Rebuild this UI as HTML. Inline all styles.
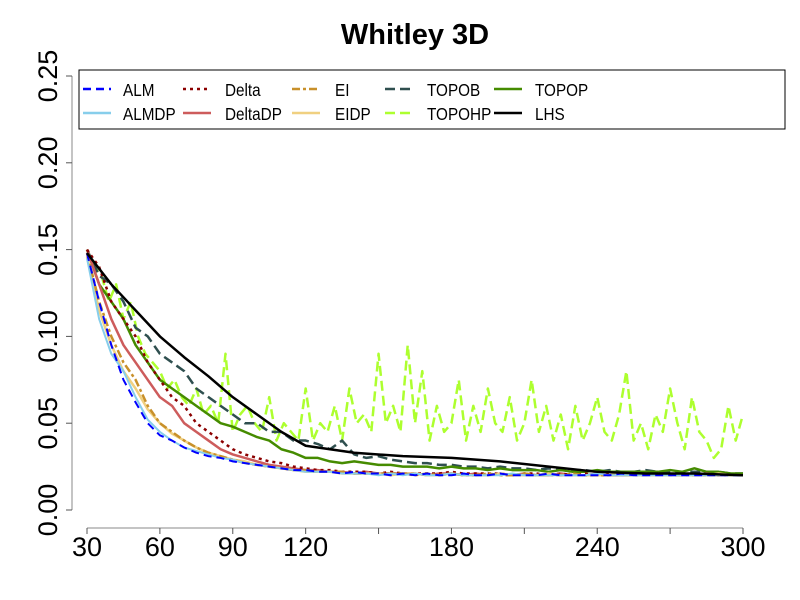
<!DOCTYPE html>
<html><head><meta charset="utf-8"><style>
body{margin:0;background:#fff}
svg{display:block;font-family:"Liberation Sans",sans-serif}
</style></head><body>
<svg id="c" width="800" height="600">
<text x="415" y="44" text-anchor="middle" font-size="29" font-weight="bold">Whitley 3D</text>
<g id="axes"></g><g id="plot"></g><g id="legend"></g>
</svg>
<script>
const xsStep5 = [];
for (let t = 30; t <= 300; t += 5) xsStep5.push(t);
const ALM = [.148,.12,.095,.075,.062,.05,.043,.04,.036,.033,.031,.03,.028,.027,.026,.025,.024,.023,.023,.022,.022,.021,.022,.021,.021,.02,.021,.02,.021,.02,.02,.021,.02,.02,.021,.02,.02,.02,.021,.02,.02,.02,.02,.02,.021,.02,.02,.02,.02,.02,.02,.02,.02,.02,.02];
const ALMDP = [.145,.11,.09,.08,.065,.052,.045,.04,.036,.034,.032,.03,.029,.027,.026,.025,.024,.023,.022,.022,.022,.021,.021,.021,.02,.021,.02,.021,.02,.02,.021,.02,.02,.02,.02,.021,.02,.02,.02,.02,.02,.02,.021,.02,.02,.02,.02,.02,.02,.02,.02,.02,.02,.02,.02];
const Delta = [.15,.14,.12,.11,.1,.085,.075,.065,.06,.05,.045,.04,.035,.032,.03,.028,.027,.025,.024,.023,.023,.022,.022,.022,.021,.022,.021,.021,.021,.021,.022,.021,.021,.021,.021,.02,.021,.021,.02,.021,.02,.021,.02,.021,.021,.02,.02,.021,.02,.02,.021,.02,.02,.02,.02];
const DeltaDP = [.15,.13,.11,.095,.085,.075,.065,.06,.05,.045,.04,.035,.032,.03,.028,.026,.025,.024,.023,.023,.022,.022,.021,.022,.021,.021,.021,.021,.02,.021,.021,.02,.021,.02,.021,.02,.021,.02,.02,.021,.02,.02,.021,.02,.02,.02,.021,.02,.02,.02,.02,.021,.02,.02,.02];
const EI = [.148,.12,.1,.085,.075,.06,.05,.045,.04,.036,.033,.031,.029,.027,.026,.025,.024,.023,.023,.022,.022,.022,.021,.021,.021,.021,.021,.02,.021,.02,.021,.02,.02,.021,.02,.02,.021,.02,.02,.02,.021,.02,.02,.02,.02,.02,.02,.021,.02,.02,.02,.02,.02,.02,.02];
const EIDP = [.146,.115,.095,.08,.07,.058,.05,.044,.04,.036,.033,.031,.029,.028,.026,.025,.024,.023,.022,.022,.022,.021,.021,.021,.021,.02,.021,.021,.02,.02,.021,.02,.02,.02,.021,.02,.02,.02,.021,.02,.02,.02,.02,.02,.021,.02,.02,.02,.02,.02,.02,.02,.021,.02,.02];
const TOPOB = [.15,.135,.13,.12,.105,.1,.09,.085,.08,.07,.065,.06,.055,.05,.05,.045,.045,.04,.04,.038,.035,.04,.032,.03,.031,.029,.028,.027,.027,.026,.026,.025,.025,.024,.025,.024,.024,.023,.024,.023,.023,.023,.022,.023,.022,.022,.023,.022,.022,.022,.022,.022,.022,.021,.021];
const TOPOP = [.15,.13,.12,.11,.095,.085,.075,.07,.065,.06,.055,.05,.048,.045,.042,.04,.035,.033,.03,.03,.028,.027,.028,.027,.026,.026,.025,.025,.025,.024,.025,.024,.024,.023,.024,.023,.023,.023,.022,.023,.022,.022,.023,.022,.022,.022,.022,.022,.023,.022,.024,.022,.022,.021,.021];
const xsStep3 = [];
for (let t = 30; t <= 300; t += 3) xsStep3.push(t);
const TOPOHP = [.15,.14,.135,.12,.13,.11,.12,.1,.09,.085,.08,.07,.075,.065,.06,.07,.055,.06,.05,.09,.045,.055,.06,.05,.045,.065,.04,.05,.045,.04,.07,.04,.05,.045,.06,.04,.07,.05,.055,.045,.09,.05,.06,.045,.095,.05,.08,.04,.06,.045,.05,.075,.04,.06,.045,.07,.05,.045,.065,.04,.05,.075,.045,.06,.04,.055,.035,.06,.04,.05,.065,.045,.04,.055,.08,.04,.05,.035,.055,.045,.07,.05,.035,.065,.045,.04,.03,.035,.06,.04,.055];
const xsLHS = [30,40,50,60,70,80,90,100,110,120,140,160,180,200,220,240,260,280,300];
const LHS = [.148,.13,.115,.1,.088,.077,.065,.055,.045,.037,.033,.031,.03,.028,.025,.022,.021,.021,.02];
const yTicks = [0,0.05,0.10,0.15,0.20,0.25];
const yLabels = ["0.00","0.05","0.10","0.15","0.20","0.25"];
const xTicks = [30,60,90,120,150,180,210,240,270,300];
const xLabels = ["30","60","90","120","","180","","240","","300"];

const X = t => 87 + (t - 30) * 656 / 270;
const Y = v => 510 - v * 1736;
const NS = "http://www.w3.org/2000/svg";
function mk(tag, attrs, parent){const e=document.createElementNS(NS,tag);for(const k in attrs)e.setAttribute(k,attrs[k]);parent.appendChild(e);return e;}
const axes=document.getElementById('axes'), plot=document.getElementById('plot'), leg=document.getElementById('legend');

const ya=mk('line',{x1:72,x2:72,y1:Y(0.25),y2:Y(0),stroke:'#888'},axes);


yTicks.forEach((v,i)=>{
  mk('line',{x1:66,x2:72,y1:Y(v),y2:Y(v),stroke:'#555'},axes);
  const t=mk('text',{x:0,y:0,'font-size':27,'text-anchor':'middle',transform:`translate(57 ${Y(v)}) rotate(-90)`},axes);
  t.textContent=yLabels[i];
  
  
});
const xa=mk('line',{x1:X(30),x2:X(300),y1:528,y2:528,stroke:'#888'},axes);


xTicks.forEach((v,i)=>{
  mk('line',{x1:X(v),x2:X(v),y1:528,y2:534,stroke:'#555'},axes);
  const t=mk('text',{x:X(v),y:556,'font-size':27,'text-anchor':'middle'},axes);
  t.textContent=xLabels[i];
  
  
});

const series=[
 {n:'TOPOHP',xs:xsStep3,d:TOPOHP,c:'#adff2f',da:'10,5',w:2.5},
 {n:'TOPOB',xs:xsStep5,d:TOPOB,c:'#2f4f4f',da:'10,5',w:2.5},
 {n:'TOPOP',xs:xsStep5,d:TOPOP,c:'#458b00',da:'',w:2.5},
 {n:'DeltaDP',xs:xsStep5,d:DeltaDP,c:'#cd5c5c',da:'',w:2.5},
 {n:'Delta',xs:xsStep5,d:Delta,c:'#8b0000',da:'3,4',w:2.5},
 {n:'EIDP',xs:xsStep5,d:EIDP,c:'#f0d080',da:'',w:2.5},
 {n:'EI',xs:xsStep5,d:EI,c:'#c8902a',da:'8,3,3,3',w:2.5},
 {n:'ALMDP',xs:xsStep5,d:ALMDP,c:'#87ceeb',da:'',w:2},
 {n:'ALM',xs:xsStep5,d:ALM,c:'#0000ff',da:'8,5',w:2},
 {n:'LHS',xs:xsLHS,d:LHS,c:'#000',da:'',w:2.5}
];
series.forEach(s=>{
  const p=mk('polyline',{points:s.d.map((v,i)=>X(s.xs[i])+','+Y(v)).join(' '),fill:'none',stroke:s.c,'stroke-width':s.w,'stroke-dasharray':s.da,'stroke-linejoin':'round'},plot);
  
  
});

const lb=mk('rect',{x:79,y:70,width:706,height:59,fill:'#fff',stroke:'#000'},leg);


const L=[['ALM','#0000ff','8,5',83,123,89],['ALMDP','#87ceeb','',83,123,113],['Delta','#8b0000','3,4',183,225,89],['DeltaDP','#cd5c5c','',183,225,113],['EI','#c8902a','8,3,3,3',292,335,89],['EIDP','#f0d080','',292,335,113],['TOPOB','#2f4f4f','10,5',385,427,89],['TOPOHP','#adff2f','10,5',385,427,113],['TOPOP','#458b00','',494,535,89],['LHS','#000','',494,535,113]];
L.forEach(e=>{
  const g=mk('g',{},leg);
  
  
  mk('line',{x1:e[3],x2:e[3]+28,y1:e[5],y2:e[5],stroke:e[1],'stroke-width':2.5,'stroke-dasharray':e[2]},g);
  const t=mk('text',{x:0,y:0,'font-size':18,transform:`translate(${e[4]} ${e[5]+7}) scale(0.85 1)`},g);
  t.textContent=e[0];
});
</script>
</body></html>
